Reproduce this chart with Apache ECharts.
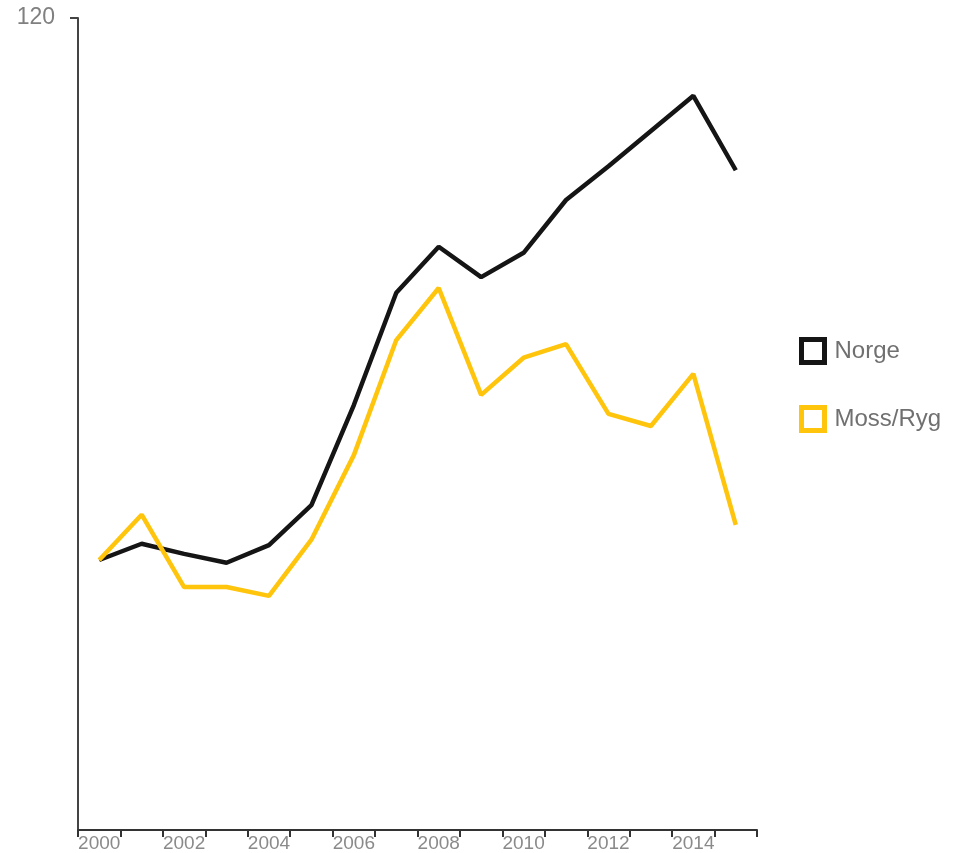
<!DOCTYPE html>
<html>
<head>
<meta charset="utf-8">
<script src="https://cdn.jsdelivr.net/npm/echarts@6/dist/echarts.min.js"></script>
<style>
html,body{margin:0;padding:0;background:#fff;}
#chart{width:959px;height:853px;}
</style>
</head>
<body>
<div id="chart"></div>
<script>
const years = ['2000','2001','2002','2003','2004','2005','2006','2007','2008','2009','2010','2011','2012','2013','2014','2015'];
const norge = [39.9, 42.3, 40.8, 39.5, 42.1, 48.0, 62.8, 79.4, 86.2, 81.7, 85.3, 93.1, 98.1, 103.3, 108.5, 97.5];
const mossRyg = [39.9, 46.6, 35.9, 35.9, 34.6, 42.9, 55.4, 72.4, 80.1, 64.3, 69.8, 71.8, 61.5, 59.7, 67.4, 45.1];
const seriesNames = ['Norge', 'Moss/Ryg'];
const yMin = 0, yMax = 120;
const yTickLabels = [120];

const black = '#151515';
const yellow = '#FFC40C';
const font = 'Liberation Sans, Arial, sans-serif';

const chart = echarts.init(document.getElementById('chart'));
chart.setOption({
  animation: false,
  backgroundColor: '#ffffff',
  textStyle: { fontFamily: font },
  grid: { left: 78, top: 18, right: 202, bottom: 23, containLabel: false },
  legend: {
    orient: 'vertical',
    left: 799,
    top: 337,
    padding: 0,
    itemWidth: 23,
    itemHeight: 23,
    itemGap: 40,
    icon: 'rect',
    textStyle: { fontFamily: font, fontSize: 24, lineHeight: 23, color: '#707070', padding: [0,0,0,5] },
    data: [
      { name: seriesNames[0], itemStyle: { color: 'transparent', borderColor: black, borderWidth: 5 } },
      { name: seriesNames[1], itemStyle: { color: 'transparent', borderColor: yellow, borderWidth: 5 } }
    ]
  },
  xAxis: {
    type: 'category',
    data: years,
    boundaryGap: true,
    axisLine: { lineStyle: { color: '#333', width: 2 } },
    axisTick: { show: true, interval: 0, length: 7, lineStyle: { color: '#333', width: 2 } },
    axisLabel: { interval: 1, color: '#8a8a8a', fontSize: 19, margin: 4, fontFamily: font }
  },
  yAxis: {
    type: 'value',
    min: yMin,
    max: yMax,
    interval: 120,
    splitLine: { show: false },
    axisLine: { show: true, lineStyle: { color: '#444', width: 2 } },
    axisTick: { show: true, length: 8, customValues: yTickLabels, lineStyle: { color: '#444', width: 2 } },
    axisLabel: {
      color: '#808080', fontSize: 23, margin: 23, fontFamily: font,
      customValues: yTickLabels
    }
  },
  series: [
    { name: seriesNames[0], type: 'line', data: norge, symbol: 'none', lineStyle: { color: black, width: 4.5 }, itemStyle: { color: black } },
    { name: seriesNames[1], type: 'line', data: mossRyg, symbol: 'none', lineStyle: { color: yellow, width: 4.5 }, itemStyle: { color: yellow } }
  ]
});
</script>
</body>
</html>
